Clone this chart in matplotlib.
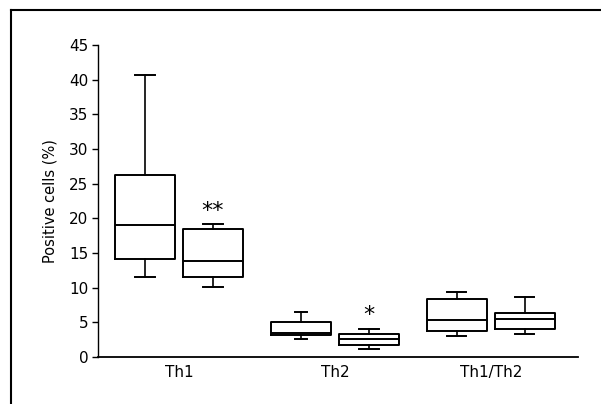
import matplotlib
matplotlib.use("Agg")
import matplotlib.pyplot as plt
from matplotlib.lines import Line2D

# groups and box statistics, two boxes per group
groups = ["Th1", "Th2", "Th1/Th2"]
whislo = [11.5, 10.05, 2.65, 1.2, 3.0, 3.3]
q1 = [14.2, 11.6, 3.2, 1.7, 3.8, 4.0]
med = [19.0, 13.9, 3.5, 2.55, 5.3, 5.5]
q3 = [26.25, 18.5, 5.1, 3.3, 8.4, 6.3]
whishi = [40.7, 19.2, 6.45, 4.0, 9.4, 8.6]
# significance marks above the second box of each group
marks = ["**", "*", ""]
mark_y = [21.1, 6.05, 0]

stats = []
for i in range(len(med)):
	stats.append({"whislo": whislo[i], "q1": q1[i], "med": med[i],
		"q3": q3[i], "whishi": whishi[i], "fliers": []})

pos = []
for g in range(len(groups)):
	pos.append(g - 0.218)
	pos.append(g + 0.218)

fig = plt.figure(figsize=(6.01, 4.04), dpi=100)
ax = fig.add_axes([98/601, 47/404, 480/601, 312/404])

lw = 1.4
ax.bxp(stats, positions=pos, widths=0.385, showfliers=False,
	boxprops=dict(color="black", linewidth=lw),
	medianprops=dict(color="black", linewidth=lw),
	whiskerprops=dict(color="black", linewidth=1.2),
	capprops=dict(color="black", linewidth=1.4),
	capwidths=[0.125, 0.125, 0.08, 0.125, 0.125, 0.125])

for g in range(len(groups)):
	if marks[g]:
		ax.text(g + 0.218, mark_y[g], marks[g], ha="center", va="center", fontsize=16)

ax.set_xlim(-0.52, 2.56)
ax.set_ylim(0, 45)
ax.set_yticks(range(0, 46, 5))
ax.set_xticks(range(len(groups)))
ax.set_xticklabels(groups, fontsize=11)
ax.tick_params(axis="x", length=0, pad=6)
ax.tick_params(axis="y", length=4, width=1, labelsize=11, pad=3)
ax.set_ylabel("Positive cells (%)", fontsize=10.5, labelpad=8)
ax.spines["top"].set_visible(False)
ax.spines["right"].set_visible(False)
ax.spines["left"].set_linewidth(1)
ax.spines["bottom"].set_linewidth(1.3)

# scanned frame around the figure
fig.add_artist(Line2D([11/601, 1], [1 - 10/404, 1 - 10/404], color="black", lw=1.5, transform=fig.transFigure))
fig.add_artist(Line2D([11/601, 11/601], [0, 1 - 10/404], color="black", lw=1.5, transform=fig.transFigure))

fig.savefig("out.png", dpi=100)
